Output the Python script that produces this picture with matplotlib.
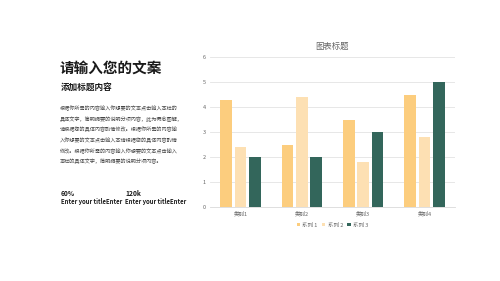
import numpy as np
import matplotlib.pyplot as plt

plt.rcParams['font.family'] = ['Noto Sans CJK SC', 'DejaVu Sans']

categories = ['类别1', '类别2', '类别3', '类别4']
series_names = ['系列 1', '系列 2', '系列 3']
s1 = [4.3, 2.5, 3.5, 4.5]
s2 = [2.4, 4.4, 1.8, 2.8]
s3 = [2, 2, 3, 5]
colors = ['#FCCD7E', '#FDE0B3', '#33665B']

fig = plt.figure(figsize=(5, 2.81), dpi=100)
fig.patch.set_facecolor('white')

# left text block
fig.text(0.119, 0.74, '请输入您的文案', fontsize=10.5, fontweight='bold', color='#1a1a1a')
fig.text(0.121, 0.68, '添加标题内容', fontsize=6.2, fontweight='bold', color='#1a1a1a')
para = ['根据你所需的内容输入你想要的文本点击输入本栏的',
        '具体文字，简明扼要的说明分项内容，此为概念图解，',
        '请根据您的具体内容酌情修改。根据你所需的内容输',
        '入你想要的文本点击输入本请根据您的具体内容酌情',
        '修改。根据你所需的内容输入你想要的文本点击输入',
        '本栏的具体文字，简明扼要的说明分项内容。']
for i, line in enumerate(para):
    fig.text(0.12, 0.608 - i * 0.038, line, fontsize=3.7, color='#444444')

fig.text(0.122, 0.303, '60%', fontsize=4.8, fontweight='bold', color='#1a1a1a')
fig.text(0.122, 0.274, 'Enter your titleEnter', fontsize=4.3, fontweight='bold', color='#1a1a1a')
fig.text(0.25, 0.303, '120k', fontsize=4.8, fontweight='bold', color='#1a1a1a')
fig.text(0.25, 0.274, 'Enter your titleEnter', fontsize=4.3, fontweight='bold', color='#1a1a1a')

# chart
ax = fig.add_axes([0.42, 0.263, 0.49, 0.534])
x = np.arange(len(categories))
w = 0.19
gap = 0.045
for k, (vals, c, name) in enumerate(zip([s1, s2, s3], colors, series_names)):
    ax.bar(x + (k - 1) * (w + gap), vals, width=w, color=c, label=name, zorder=3)

ax.set_xlim(-0.5, 3.5)
ax.set_ylim(0, 6)
ax.set_yticks(range(7))
ax.set_xticks(x)
ax.set_xticklabels(categories)
ax.tick_params(axis='both', length=0, labelsize=4, colors='#666666', pad=3)
ax.grid(axis='y', color='#E3E3E3', linewidth=0.6, zorder=0)
for sp in ['top', 'right', 'left']:
    ax.spines[sp].set_visible(False)
ax.spines['bottom'].set_color('#D9D9D9')
ax.spines['bottom'].set_linewidth(0.6)
ax.set_title('图表标题', fontsize=6, color='#666666', pad=6)

ax.legend(loc='upper center', bbox_to_anchor=(0.5, -0.07), ncol=3, frameon=False,
          fontsize=4, handlelength=0.6, handleheight=0.6, handletextpad=0.4,
          columnspacing=0.8, labelcolor='#666666')

fig.savefig('out.png', dpi=100, facecolor='white')
